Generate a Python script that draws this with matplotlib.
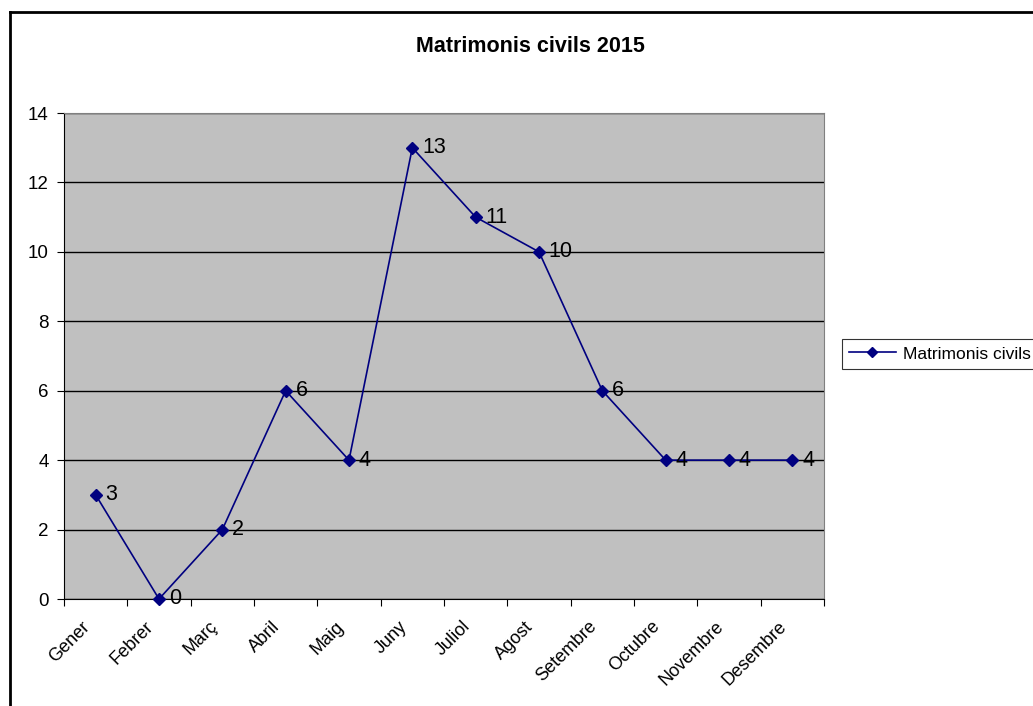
import matplotlib
matplotlib.use("Agg")
from matplotlib import pyplot as plt
from matplotlib.lines import Line2D
from matplotlib.transforms import ScaledTranslation

plt.rcParams['font.family'] = ['Liberation Sans', 'DejaVu Sans']

# data
mesos = ["Gener", "Febrer", "Març", "Abril", "Maig", "Juny", "Juliol",
         "Agost", "Setembre", "Octubre", "Novembre", "Desembre"]
matrimonis = [3, 0, 2, 6, 4, 13, 11, 10, 6, 4, 4, 4]
yticks = [0, 2, 4, 6, 8, 10, 12, 14]

W, H = 1033, 706
fig = plt.figure(figsize=(W / 100, H / 100), dpi=100)
ax = fig.add_axes([64 / W, 1 - 599 / H, (824 - 64) / W, (599 - 113) / H])
ax.set_facecolor('#c0c0c0')

x = list(range(len(mesos)))
ax.plot(x, matrimonis, color='#000080', lw=1.2, marker='D', ms=6,
        markerfacecolor='#000080', markeredgecolor='#000080',
        label='Matrimonis civils', clip_on=False, zorder=3)
for xi, v in zip(x, matrimonis):
    ax.annotate(str(v), (xi, v), xytext=(7, 0), textcoords='offset points',
                va='center', ha='left', fontsize=15.5, color='black',
                annotation_clip=False, zorder=4)

ax.set_xlim(-0.5, len(mesos) - 0.5)
ax.set_ylim(0, 14)
ax.set_yticks(yticks)
ax.yaxis.grid(True, color='black', lw=1)
ax.set_axisbelow(True)
ax.set_xticks([i - 0.5 for i in range(len(mesos) + 1)])
ax.set_xticklabels([])
ax.set_xticks(x, minor=True)
ax.set_xticklabels(mesos, minor=True, rotation=45, ha='right', va='center',
                   rotation_mode='anchor', fontsize=13)
ax.tick_params(axis='x', which='minor', length=0, pad=18)
ax.tick_params(axis='x', which='major', length=5, direction='out', color='black')
ax.tick_params(axis='y', length=5, direction='out', labelsize=13.5, pad=6)
shift = ScaledTranslation(-8 / 100, 0, fig.dpi_scale_trans)
for lab in ax.get_xticklabels(minor=True):
    lab.set_transform(lab.get_transform() + shift)

ax.spines['top'].set_color('#808080')
ax.spines['right'].set_color('#808080')
ax.spines['left'].set_color('black')
ax.spines['bottom'].set_color('black')

fig.text(530 / W, 1 - 46 / H, 'Matrimonis civils 2015', fontsize=15.5,
         fontweight='bold', ha='center', va='center')

leg = ax.legend(loc='center left', bbox_to_anchor=(842 / W, 1 - 354 / H),
                bbox_transform=fig.transFigure, fontsize=12.5, frameon=True,
                fancybox=False, edgecolor='black', handlelength=2.7,
                borderpad=0.4, borderaxespad=0, handletextpad=0.4,
                markerscale=0.9)
leg.get_frame().set_linewidth(0.8)

# outer chart border
fig.add_artist(Line2D([10 / W, 10 / W], [0, 1 - 12 / H], color='black', lw=2,
                      transform=fig.transFigure))
fig.add_artist(Line2D([10 / W, 1], [1 - 12 / H, 1 - 12 / H], color='black', lw=2,
                      transform=fig.transFigure))

fig.savefig('out.png', dpi=100)
